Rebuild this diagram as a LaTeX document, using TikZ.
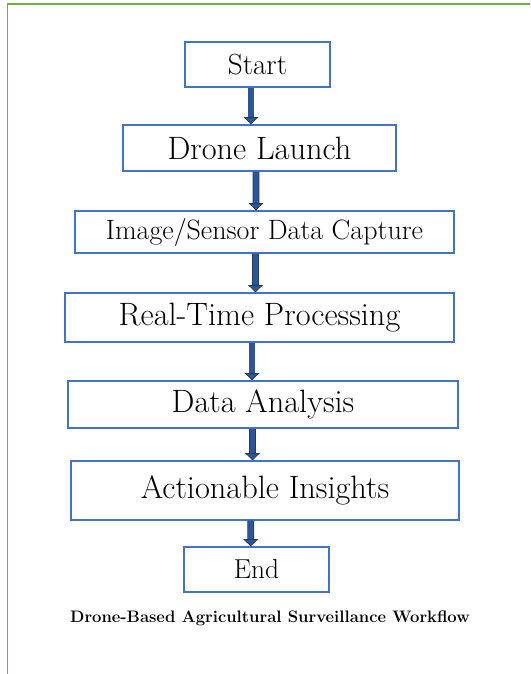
\documentclass[tikz,border=0pt]{standalone}
\usepackage{fontspec}
\usepackage{tikz}
\usetikzlibrary{arrows.meta}

\definecolor{boxblue}{HTML}{4472C4}
\definecolor{arrowblue}{HTML}{2F5597}
\definecolor{arrowdark}{HTML}{1F3864}
\definecolor{framegreen}{HTML}{70AD47}

\begin{document}
\begin{tikzpicture}[x=0.03cm,y=-0.03cm,
        stage/.style={rectangle,draw=boxblue,line width=1.3pt,fill=white,text=black,inner sep=0pt,font=\fontsize{27.6}{32}\selectfont},
        flow/.style={draw=arrowdark,line width=0.6pt,double=arrowblue,double distance=4.6pt,
            -{Triangle[width=12.5pt,length=6pt,fill=arrowblue]}}]
        \useasboundingbox (0,0) rectangle (530,674);
        \draw[framegreen,line width=1.7pt] (530,4) -- (7.5,4) -- (7.5,674);

        \node[stage,minimum width=4.35cm,minimum height=1.35cm,font=\fontsize{24.9}{29}\selectfont] (start) at (257.5,64.5) {Start};
        \node[stage,minimum width=8.19cm,minimum height=1.38cm] (launch) at (259.5,148) {Drone Launch};
        \node[stage,minimum width=11.37cm,minimum height=1.26cm,font=\fontsize{23.9}{28}\selectfont] (capture) at (264.5,232) {Image/Sensor Data Capture};
        \node[stage,minimum width=11.67cm,minimum height=1.47cm] (process) at (259.5,317.5) {Real-Time Processing};
        \node[stage,minimum width=11.7cm,minimum height=1.41cm] (analysis) at (263,404.5) {Data Analysis};
        \node[stage,minimum width=11.64cm,minimum height=1.77cm] (insights) at (265,490.5) {Actionable Insights};
        \node[stage,minimum width=4.35cm,minimum height=1.35cm,font=\fontsize{23.4}{28}\selectfont] (finish) at (256.5,569.5) {End};

        \node[font=\fontsize{14.2}{17}\selectfont\bfseries] (caption) at (270,618) {Drone-Based Agricultural Surveillance Workflow};

        \draw[flow] ([xshift=-0.195cm]start.south) -- ([xshift=-0.255cm]launch.north);
        \draw[flow] ([xshift=-0.105cm]launch.south) -- ([xshift=-0.255cm]capture.north);
        \draw[flow] ([xshift=-0.27cm]capture.south) -- ([xshift=-0.12cm]process.north);
        \draw[flow] ([xshift=-0.225cm]process.south) -- ([xshift=-0.33cm]analysis.north);
        \draw[flow] ([xshift=-0.315cm]analysis.south) -- ([xshift=-0.375cm]insights.north);
        \draw[flow] ([xshift=-0.43cm]insights.south) -- ([xshift=-0.175cm]finish.north);
\end{tikzpicture}
\end{document}
